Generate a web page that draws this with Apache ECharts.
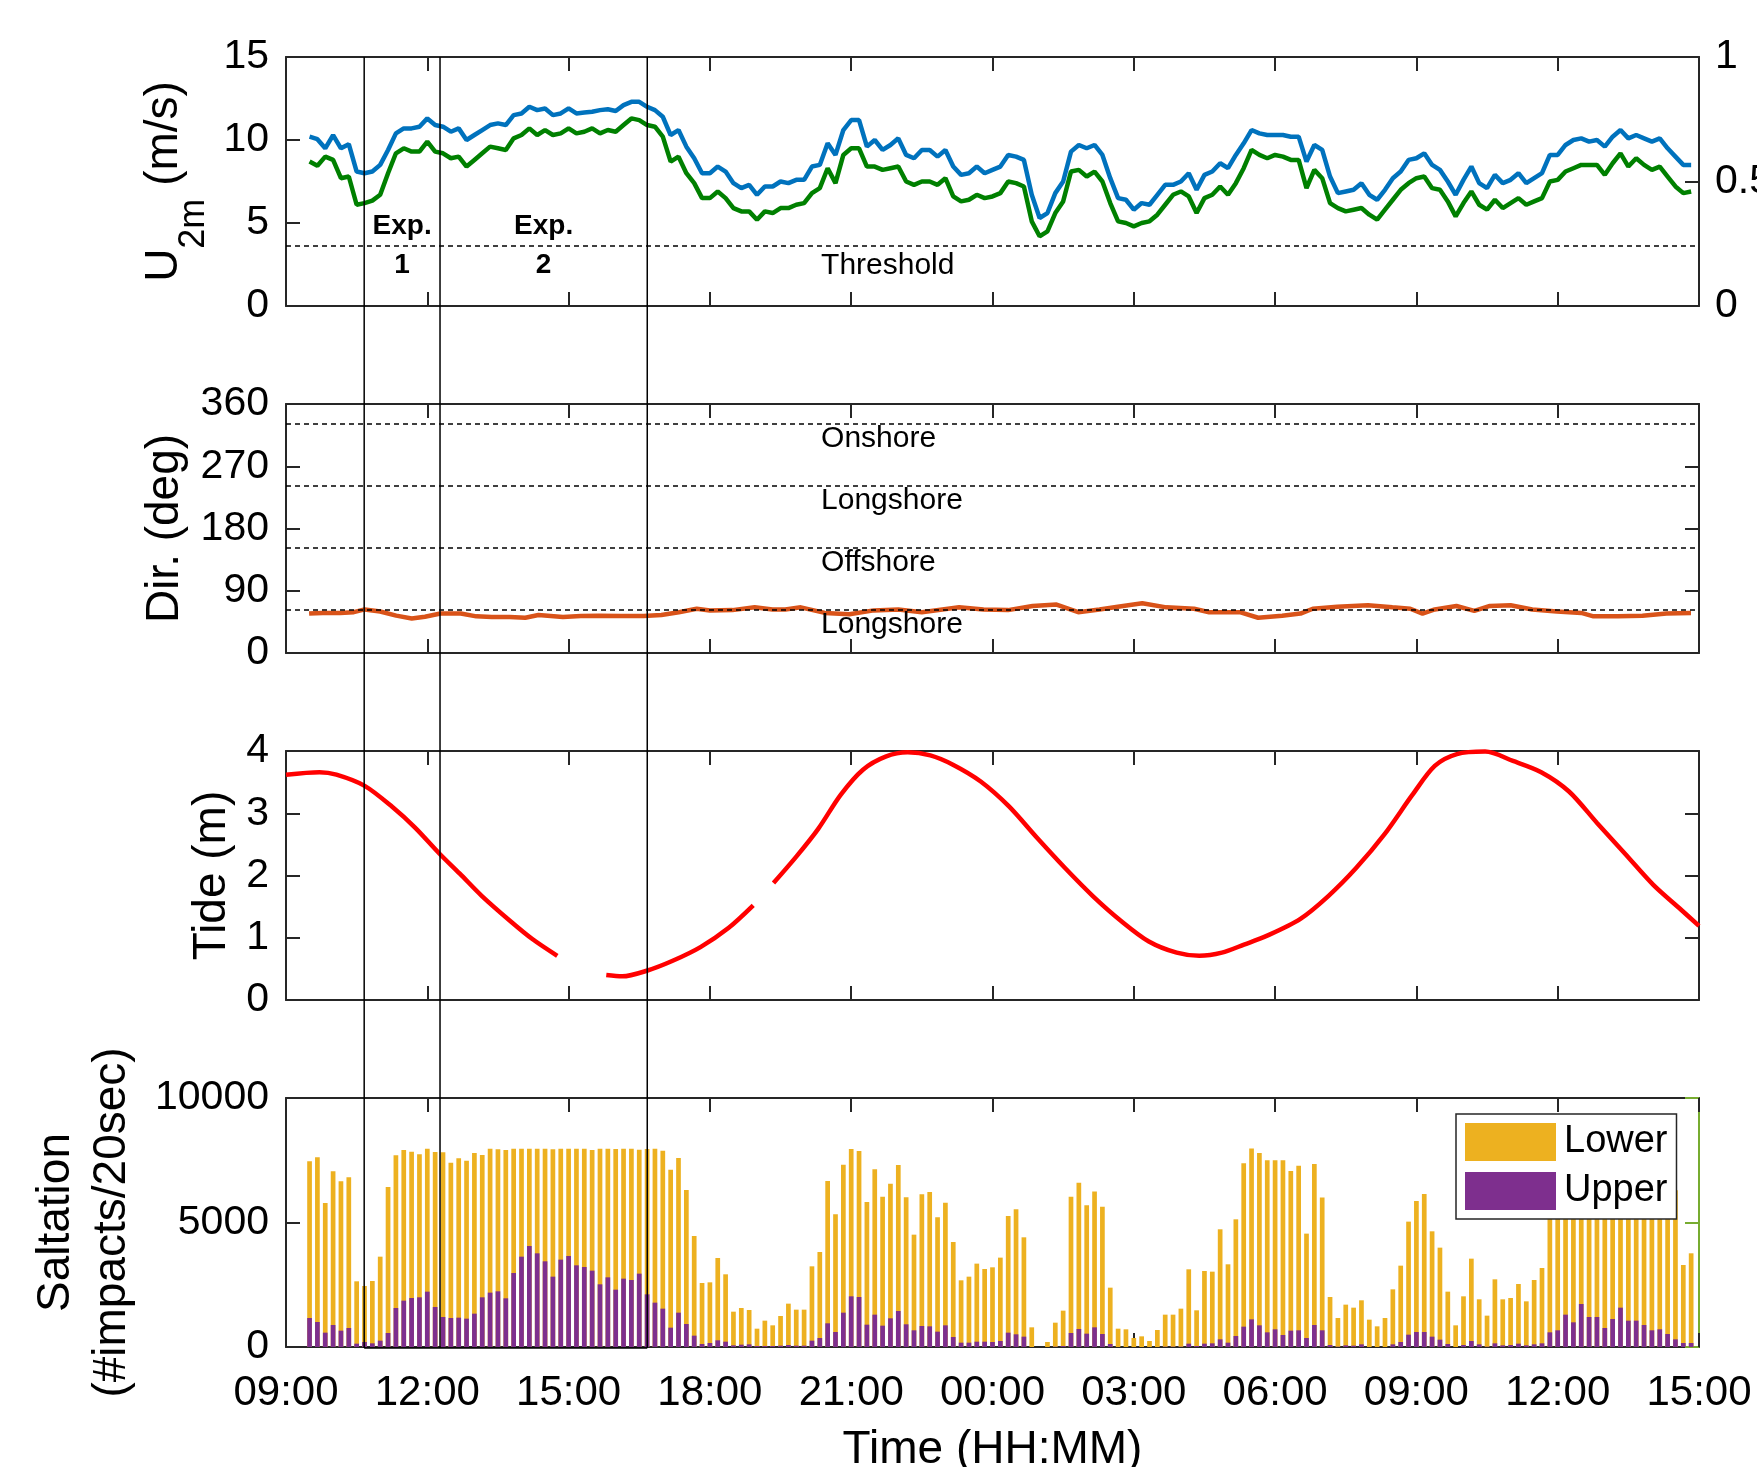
<!DOCTYPE html>
<html><head><meta charset="utf-8">
<script src="https://cdn.jsdelivr.net/npm/echarts@6/dist/echarts.min.js"></script>
<style>html,body{margin:0;padding:0;background:#fff;}#main{width:1757px;height:1467px;}</style>
</head><body><div id="main"></div>
<script>
// ---------------- DATA ----------------
// time axis: hours after 09:00 on day 1
const seriesStartHour = 0.5;      // 09:30
const seriesStepHour = 1 / 6;     // 10-minute records
const xTickLabels = ['09:00','12:00','15:00','18:00','21:00','00:00','03:00','06:00','09:00','12:00','15:00'];

const windBlue = [10.2,10.05,9.5,10.3,9.5,9.75,8.1,8.0,8.1,8.5,9.4,10.4,10.7,10.7,10.8,11.3,10.9,10.8,10.5,10.7,10.0,10.3,10.6,10.9,11.0,10.9,11.5,11.6,12.0,11.8,11.9,11.5,11.6,11.9,11.6,11.65,11.7,11.8,11.85,11.75,12.1,12.3,12.3,12.0,11.8,11.4,10.3,10.6,9.6,8.9,8.0,
 8.0,8.4,8.1,7.4,7.1,7.3,6.7,7.2,7.2,7.5,7.4,7.6,7.6,8.4,8.5,9.8,9.1,10.6,11.2,11.2,9.6,10.0,9.4,9.7,10.1,9.1,8.9,9.4,9.4,9.0,9.4,8.4,7.9,8.0,8.4,8.0,8.2,8.4,9.1,9.0,8.8,6.7,5.3,5.6,6.8,7.5,9.3,9.7,9.5,9.7,9.1,7.7,6.5,6.4,5.8,6.2,6.1,6.7,7.3,7.3,7.5,8.0,7.0,7.9,8.1,8.6,8.3,9.1,9.8,10.6,10.4,10.3,10.3,10.3,10.2,
 10.2,8.7,9.7,9.4,7.8,6.8,6.9,7.0,7.4,6.7,6.4,7.0,7.7,8.1,8.8,8.9,9.2,8.5,8.2,7.5,6.7,7.6,8.4,7.4,7.1,7.9,7.4,7.6,8.0,7.4,7.7,8.0,9.1,9.1,9.7,10.0,10.1,9.9,10.0,9.6,10.2,10.6,10.1,10.3,10.1,9.9,10.1,9.5,9.0,8.5,8.5];
const windGreen = [8.7,8.45,9.0,8.8,7.7,7.8,6.1,6.2,6.35,6.7,8.0,9.2,9.5,9.3,9.3,9.9,9.3,9.2,8.9,9.0,8.4,8.8,9.2,9.6,9.5,9.4,10.1,10.3,10.7,10.3,10.6,10.3,10.4,10.7,10.4,10.5,10.7,10.4,10.6,10.5,10.9,11.3,11.2,10.9,10.8,10.2,8.7,9.0,8.0,7.4,6.5,
 6.5,6.9,6.5,5.9,5.7,5.7,5.2,5.7,5.6,5.9,5.9,6.1,6.2,6.8,7.1,8.3,7.4,9.1,9.5,9.5,8.4,8.4,8.2,8.3,8.4,7.5,7.3,7.5,7.5,7.3,7.7,6.6,6.3,6.4,6.7,6.5,6.6,6.8,7.5,7.4,7.2,5.1,4.2,4.5,5.6,6.3,8.1,8.2,7.8,8.1,7.5,6.2,5.1,5.0,4.8,5.0,5.1,5.5,6.1,6.7,6.9,6.6,5.6,6.5,6.7,7.2,6.7,7.4,8.3,9.4,9.1,8.9,9.1,9.0,8.8,
 8.8,7.1,8.2,7.7,6.2,5.9,5.7,5.8,5.9,5.5,5.2,5.8,6.4,7.0,7.4,7.7,7.8,7.1,7.0,6.3,5.4,6.2,6.9,6.1,5.8,6.4,5.9,6.2,6.5,6.1,6.3,6.5,7.5,7.6,8.1,8.3,8.5,8.5,8.5,7.9,8.6,9.2,8.4,8.9,8.5,8.2,8.4,7.8,7.2,6.8,6.9];

const saltLower = [7457,7618,5784,7056,6654,6815,2638,2450,2651,3628,6426,7698,7912,7845,7738,7965,7832,7818,7403,7577,7484,7791,7711,7965,7938,7912,7965,7965,7965,7965,7965,7938,7965,7965,7965,7965,7912,7965,7965,7952,7965,7965,7925,7952,7965,7885,7122,7591,6306,4458,2570,2597,3575,2919,1419,1566,1486,736,
 1058,870,1245,1741,1500,1500,3240,3816,6668,5329,7324,7954,7873,5825,7137,6039,6561,7311,6012,4512,6133,6226,5209,5798,4218,2678,2825,3348,3133,3200,3589,5262,5530,4405,790,0,201,977,1460,6039,6601,5691,6240,5637,2383,736,710,362,428,241,683,1299,1299,1540,3120,1473,3053,3026,4727,3321,
 5128,7378,7967,7793,7498,7498,7498,7070,7284,4553,7351,5999,2009,1165,1701,1580,1875,1098,830,1165,2316,3267,5035,5865,6146,4646,3990,2223,870,2035,3548,1915,1259,2718,1915,1968,2531,1834,2691,3173,6200,7000,7600,7500,7900,7700,7800,7400,7700,7900,7800,7800,7600,7400,7300,7000,6300,3294,3763];
const saltUpper = [1165,1004,576,884,656,763,134,200,147,254,562,1566,1861,1968,1995,2223,1607,1205,1165,1178,1138,1339,1995,2183,2236,1955,2973,3628,4057,3762,3441,2825,3508,3655,3280,3213,3066,2517,2798,2303,2745,2691,2946,2115,1781,1540,777,1379,924,455,120,160,268,214,67,94,107,40,
 40,40,54,80,54,54,254,362,951,603,1379,2035,2009,897,1299,857,1152,1446,911,670,844,830,616,870,402,174,174,214,214,201,241,576,509,415,0,0,0,13,40,562,723,536,790,522,120,0,0,0,0,0,0,13,13,13,134,40,134,147,308,174,
 442,817,1111,870,589,710,482,656,670,362,884,670,80,13,67,54,107,0,0,0,107,201,495,603,603,415,295,120,0,80,241,107,13,147,67,80,134,67,107,147,589,670,1299,991,1727,1205,1205,763,1125,1580,1058,1058,884,670,710,522,308,160,160];

const dirHours = [0.49,0.78,1.15,1.44,1.67,2.0,2.34,2.67,2.95,3.28,3.71,4.04,4.37,4.75,5.08,5.36,5.88,6.26,6.64,7.11,7.59,7.97,8.34,8.72,9.0,9.48,9.95,10.33,10.6,10.93,11.44,11.96,12.48,13.0,13.5,14.29,14.81,15.33,15.85,16.36,16.82,17.27,17.66,18.18,18.69,19.28,19.6,20.25,20.64,21.15,21.54,21.8,22.32,22.97,23.49,23.87,24.13,24.39,24.85,25.23,25.56,26.0,26.46,26.98,27.5,27.76,28.28,28.8,29.31,29.83];
const dirValues = [57,58,58,59,63,60,54,50,52.5,57,57,53,52,52,51,55,52,53.4,54,53.4,53.4,55,59,64,61.6,62,66,63,63,66,58,56,61.6,63,59,66,63,62,68,70,59,63,67,72,66,64,59,59,51,54,57,64,67,69,66,64,57,63,68,61,68,69,63,60,58,53,53,54,57,58];

const tideHours = [0,0.71,1.07,1.67,2.26,2.74,3.26,3.69,4.16,4.76,5.23,5.76,6.3,6.8,7.14,7.66,8.21,8.8,9.4,9.92,10.15,10.35,10.83,11.3,11.78,12.25,12.73,13.2,13.68,14.16,14.75,15.35,15.94,16.54,17.13,17.73,18.32,18.91,19.39,19.87,20.34,20.82,21.53,22.13,22.72,23.32,23.91,24.39,24.86,25.46,26.05,26.65,27.24,27.84,28.43,29.03,29.62,30];
const tideValues = [3.62,3.66,3.62,3.44,3.1,2.77,2.35,2.03,1.67,1.27,0.98,0.71,null,0.4,0.38,0.47,0.63,0.85,1.16,1.52,null,1.88,2.3,2.75,3.3,3.7,3.91,3.98,3.93,3.78,3.51,3.11,2.61,2.12,1.67,1.27,0.94,0.76,0.71,0.76,0.89,1.03,1.3,1.67,2.12,2.66,3.29,3.76,3.95,3.99,3.84,3.66,3.35,2.84,2.35,1.85,1.45,1.19];

const thresholdU = 3.6;
const dirLines = [62, 152, 242, 332];
const dirLabels = ['Longshore', 'Offshore', 'Longshore', 'Onshore'];
const expBounds = [1.66, 3.27, 7.67];   // 10:40, 12:16, 16:40
const expNames = ['1', '2'];
const annotationHour = 11.36;           // left edge of the in-panel labels

// ---------------- CHART ----------------
const FONT = "'Liberation Sans', Arial, Helvetica, sans-serif";
const AX = '#262626';
const tms = arr => arr.map((v, i) => [seriesStartHour + i * seriesStepHour, v]);
const pairs = (xs, ys) => xs.map((x, i) => [x, ys[i]]);

const gridTops = [57, 404, 751, 1098];
const grid = gridTops.map(t => ({left: 286, top: t, width: 1413, height: 249, outerBoundsMode: 'none', containLabel: false}));

const axLine = {show: true, onZero: false, lineStyle: {color: AX, width: 2}};
const axTick = {show: true, inside: true, length: 14, lineStyle: {color: AX, width: 2}};
const labelStyle = {fontSize: 41, fontFamily: FONT, color: '#000'};

const xAxis = [];
for (let g = 0; g < 4; g++) {
  const base = {type: 'value', gridIndex: g, min: 0, max: 30, interval: 3,
    axisLine: axLine, axisTick: axTick, splitLine: {show: false}};
  const bottom = Object.assign({}, base, {position: 'bottom',
    axisLabel: Object.assign({show: g === 3, margin: 25, formatter: (v) => xTickLabels[Math.round(v / 3)]}, labelStyle, {fontSize: 42})});
  if (g === 3) {
    bottom.name = 'Time (HH:MM)';
    bottom.nameLocation = 'middle';
    bottom.nameGap = 80;
    bottom.nameTextStyle = {fontSize: 46, fontFamily: FONT, color: '#000'};
  }
  xAxis.push(bottom);
  xAxis.push(Object.assign({}, base, {position: 'top', axisLabel: {show: false}}));
}

const nameStyle = {fontSize: 46, fontFamily: FONT, color: '#000'};
const yDefs = [
  {min: 0, max: 15, interval: 5, name: '{u|U}{s|2m}{u| (m/s)}', gap: 74,
   nts: {fontFamily: FONT, color: '#000', rich: {u: {fontSize: 46, fontFamily: FONT, color: '#000', verticalAlign: 'top'}, s: {fontSize: 36, fontFamily: FONT, color: '#000', verticalAlign: 'top', padding: [35, 0, 0, 0]}}}},
  {min: 0, max: 360, interval: 90, name: 'Dir. (deg)', gap: 98, nts: nameStyle},
  {min: 0, max: 4, interval: 1, name: 'Tide (m)', gap: 48, nts: nameStyle},
  {min: 0, max: 10000, interval: 5000, name: 'Saltation\n(#impacts/20sec)', gap: 146, nts: Object.assign({lineHeight: 56}, nameStyle)}
];
const yAxis = [];
yDefs.forEach((d, g) => {
  yAxis.push({type: 'value', gridIndex: g, position: 'left', min: d.min, max: d.max, interval: d.interval,
    axisLine: axLine, axisTick: axTick, splitLine: {show: false},
    axisLabel: Object.assign({margin: 17, formatter: (v) => String(v)}, labelStyle),
    name: d.name, nameLocation: 'middle', nameRotate: 90, nameGap: d.gap, nameTextStyle: d.nts});
  const right = {type: 'value', gridIndex: g, position: 'right', min: d.min, max: d.max, interval: d.interval,
    axisLine: axLine, axisTick: axTick, splitLine: {show: false}, axisLabel: {show: false}};
  if (g === 0) { right.min = 0; right.max = 1; right.interval = 0.5;
    right.axisLabel = Object.assign({show: true, margin: 16, formatter: (v) => String(v)}, labelStyle); }
  if (g === 3) {
    right.axisLine = {show: true, onZero: false, lineStyle: {color: '#77AC30', width: 2}};
    right.axisTick = {show: true, inside: true, length: 14, lineStyle: {color: '#77AC30', width: 2}};
  }
  yAxis.push(right);
});

const dashed = {color: '#000', type: [5, 4], width: 1.5};
const option = {
  animation: false,
  backgroundColor: '#fff',
  grid, xAxis, yAxis,
  legend: {data: ['Lower', 'Upper'], orient: 'vertical', left: 1456, top: 1114,
    itemWidth: 91, itemHeight: 38, itemGap: 11, padding: [9, 9, 9, 9],
    backgroundColor: '#fff', borderColor: AX, borderWidth: 1.5, icon: 'rect', selectedMode: false,
    textStyle: {fontSize: 38, fontFamily: FONT, color: '#000', padding: [0, 0, 0, 3]}},
  series: [
    {name: 'U blue', type: 'line', xAxisIndex: 0, yAxisIndex: 0, data: tms(windBlue), showSymbol: false,
     lineStyle: {color: '#0072BD', width: 4.5}, itemStyle: {color: '#0072BD'},
     markLine: {silent: true, symbol: 'none', label: {show: false}, lineStyle: dashed, data: [{yAxis: thresholdU}]}},
    {name: 'U green', type: 'line', xAxisIndex: 0, yAxisIndex: 0, data: tms(windGreen), showSymbol: false,
     lineStyle: {color: '#008000', width: 4.5}, itemStyle: {color: '#008000'}},
    {name: 'Dir', type: 'line', xAxisIndex: 2, yAxisIndex: 2, data: pairs(dirHours, dirValues), showSymbol: false,
     lineStyle: {color: '#D95319', width: 4.5}, itemStyle: {color: '#D95319'},
     markLine: {silent: true, symbol: 'none', label: {show: false}, lineStyle: dashed, data: dirLines.map(v => ({yAxis: v}))}},
    {name: 'Tide', type: 'line', xAxisIndex: 4, yAxisIndex: 4, data: pairs(tideHours, tideValues), showSymbol: false,
     connectNulls: false, smooth: 0.3, lineStyle: {color: '#FF0000', width: 4.5}, itemStyle: {color: '#FF0000'}},
    {name: 'Lower', type: 'bar', xAxisIndex: 6, yAxisIndex: 6, data: tms(saltLower), barWidth: 4.7, barGap: '-100%',
     itemStyle: {color: '#EDB120'}},
    {name: 'Upper', type: 'bar', xAxisIndex: 6, yAxisIndex: 6, data: tms(saltUpper), barWidth: 4.7, barGap: '-100%',
     itemStyle: {color: '#7E2F8E'}}
  ]
};

const chart = echarts.init(document.getElementById('main'), null, {renderer: 'canvas'});
chart.setOption(option);

// annotations positioned through the axes' own scales
const P = (g, x, y) => chart.convertToPixel({xAxisIndex: 2 * g, yAxisIndex: 2 * g}, [x, y]);
const gfx = [];
const lineStyleExp = {stroke: '#000', lineWidth: 1.5};
const yTop = P(0, 0, 15)[1], yBot = P(3, 0, 0)[1] + 1;
expBounds.forEach(h => {
  const x = P(0, h, 0)[0];
  gfx.push({type: 'line', z: 100, silent: true, shape: {x1: x, y1: yTop, x2: x, y2: yBot}, style: lineStyleExp});
});
const xa = P(0, expBounds[0], 0)[0], xb = P(0, expBounds[expBounds.length - 1], 0)[0];
gfx.push({type: 'line', z: 100, silent: true, shape: {x1: xa, y1: yBot, x2: xb, y2: yBot}, style: lineStyleExp});
for (let i = 0; i < expBounds.length - 1; i++) {
  const c = P(0, (expBounds[i] + expBounds[i + 1]) / 2, thresholdU);
  gfx.push({type: 'text', z: 100, silent: true, x: c[0], y: c[1],
    style: {text: 'Exp.\n' + expNames[i], fill: '#000', fontSize: 28, fontWeight: 'bold', fontFamily: FONT,
      lineHeight: 39, align: 'center', textAlign: 'center', verticalAlign: 'middle', textVerticalAlign: 'middle'}});
}
const th = P(0, annotationHour, thresholdU);
gfx.push({type: 'text', z: 100, silent: true, x: th[0], y: th[1] + 4,
  style: {text: 'Threshold', fill: '#000', fontSize: 30, fontFamily: FONT, align: 'left', textAlign: 'left', verticalAlign: 'top', textVerticalAlign: 'top'}});
dirLines.forEach((v, i) => {
  const p = P(1, annotationHour, v);
  gfx.push({type: 'text', z: 100, silent: true, x: p[0], y: p[1],
    style: {text: dirLabels[i], fill: '#000', fontSize: 30, fontFamily: FONT, align: 'left', textAlign: 'left', verticalAlign: 'top', textVerticalAlign: 'top'}});
});
chart.setOption({graphic: gfx});
</script></body></html>
